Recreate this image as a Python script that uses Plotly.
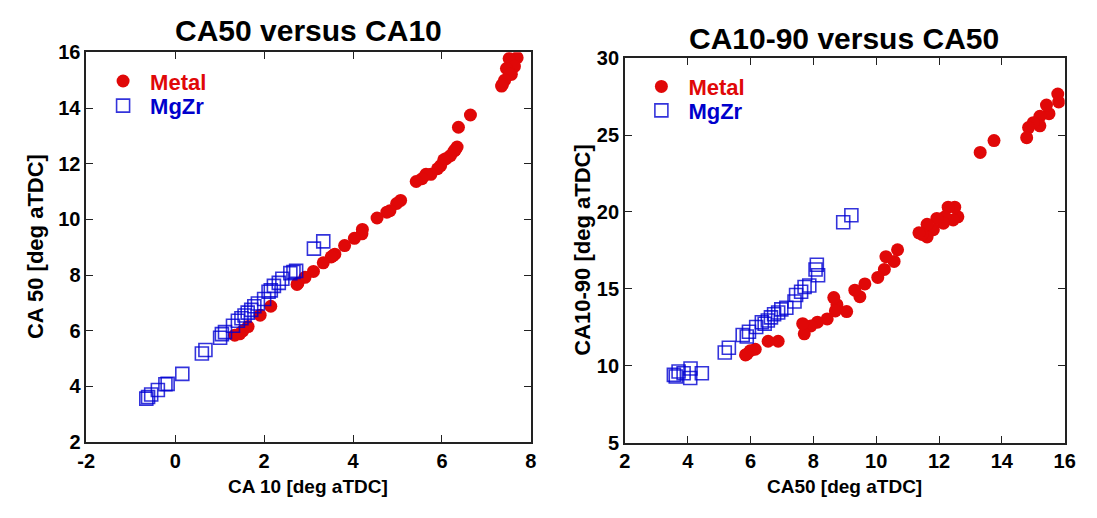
import plotly.graph_objects as go

# Combustion phasing data: CA10, CA50 and CA10-90 burn duration [deg aTDC]
metal_ca10 = [7.69, 7.51, 7.63, 7.45, 7.56, 7.52, 7.41, 7.36, 7.34, 6.64, 6.37,
              6.34, 6.30, 6.27, 6.19, 6.10, 6.04, 5.97, 5.90, 5.75, 5.64, 5.55,
              5.42, 5.07, 4.98, 4.83, 4.76, 4.54, 4.21, 4.20, 4.03, 3.81, 3.59,
              3.55, 3.51, 3.33, 3.11, 2.92, 2.76, 2.74, 2.15, 1.91, 1.64, 1.52,
              1.45, 1.34]
metal_ca50 = [15.81, 15.78, 15.50, 15.42, 15.21, 15.21, 15.00, 14.85, 14.79, 13.75, 13.31,
              12.60, 12.50, 12.45, 12.29, 12.19, 12.14, 11.93, 11.82, 11.62, 11.62, 11.46,
              11.36, 10.68, 10.57, 10.31, 10.26, 10.05, 9.64, 9.48, 9.32, 9.06, 8.75,
              8.70, 8.65, 8.44, 8.13, 7.92, 7.71, 7.66, 6.88, 6.56, 6.15, 5.99,
              5.89, 5.84]
metal_ca1090 = [27.15, 27.67, 26.39, 26.95, 26.22, 25.60, 25.81, 25.49, 24.83, 24.64, 23.87,
                19.68, 20.31, 19.48, 20.31, 19.68, 19.27, 19.58, 18.85, 19.20, 18.37, 18.54,
                18.64, 17.54, 16.78, 17.09, 16.26, 15.74, 15.32, 14.49, 14.91, 13.52, 13.97,
                13.56, 14.43, 13.04, 12.83, 12.58, 12.07, 12.73, 11.59, 11.59, 11.07, 10.97,
                10.76, 10.70]

mgzr_ca10 = [3.33, 3.12, 2.72, 2.66, 2.59, 2.41, 2.33, 2.22, 2.15, 2.10, 2.00,
             1.86, 1.78, 1.71, 1.63, 1.56, 1.49, 1.41, 1.30, 1.12, 1.05, 1.01,
             0.68, 0.60, 0.16, -0.17, -0.22, -0.39, -0.54, -0.61, -0.65]
mgzr_ca50 = [9.21, 8.95, 8.15, 8.11, 8.07, 7.87, 7.72, 7.61, 7.45, 7.40, 7.14,
             6.98, 6.88, 6.75, 6.65, 6.55, 6.45, 6.36, 6.18, 5.95, 5.88, 5.75,
             5.31, 5.18, 4.45, 4.09, 4.08, 3.87, 3.71, 3.62, 3.56]
mgzr_ca1090 = [19.79, 19.33, 15.88, 16.57, 16.26, 15.22, 15.12, 14.81, 14.60, 14.18, 13.77,
               13.66, 13.46, 13.35, 13.14, 12.94, 12.73, 12.83, 12.52, 12.21, 11.90, 12.00,
               11.17, 10.86, 9.51, 9.82, 9.20, 9.51, 9.62, 9.30, 9.40]

left_x_ticks = [-2, 0, 2, 4, 6, 8]
left_y_ticks = [2, 4, 6, 8, 10, 12, 14, 16]
right_x_ticks = [2, 4, 6, 8, 10, 12, 14, 16]
right_y_ticks = [5, 10, 15, 20, 25, 30]

W, H = 1097, 518
RED = "#E00808"
BLUE = "#0000CC"
FONT = "Liberation Sans, Arial, sans-serif"

# pixel boxes of the two panels: (left, top, right, bottom)
box_l = (78.7, 43.2, 531.6, 450.2)
box_r = (627.3, 49.3, 1075.3, 450.7)


def xdom(b):
    return [b[0] / W, b[2] / W]


def ydom(b):
    return [1 - b[3] / H, 1 - b[1] / H]


metal_marker = dict(symbol="circle", size=13, color=RED, line=dict(width=0))
mgzr_marker = dict(symbol="square-open", size=13, color="rgba(0,0,210,0.8)",
                   line=dict(width=1.6, color="rgba(0,0,210,0.8)"))

fig = go.Figure()
fig.add_trace(go.Scatter(x=metal_ca10, y=metal_ca50, mode="markers", marker=metal_marker,
                         name=f"<span style='color:{RED}'>Metal</span>",
                         xaxis="x", yaxis="y", legend="legend"))
fig.add_trace(go.Scatter(x=mgzr_ca10, y=mgzr_ca50, mode="markers", marker=mgzr_marker,
                         name=f"<span style='color:{BLUE}'>MgZr</span>",
                         xaxis="x", yaxis="y", legend="legend3"))
fig.add_trace(go.Scatter(x=metal_ca50, y=metal_ca1090, mode="markers", marker=metal_marker,
                         name=f"<span style='color:{RED}'>Metal</span>",
                         xaxis="x2", yaxis="y2", legend="legend2"))
fig.add_trace(go.Scatter(x=mgzr_ca50, y=mgzr_ca1090, mode="markers", marker=mgzr_marker,
                         name=f"<span style='color:{BLUE}'>MgZr</span>",
                         xaxis="x2", yaxis="y2", legend="legend4"))

axis_common = dict(showline=True, linecolor="#222222", linewidth=1.5, mirror="ticks",
                   ticks="inside", ticklen=7, tickwidth=1, tickcolor="#222222",
                   showgrid=False, zeroline=False, fixedrange=True,
                   tickfont=dict(family=FONT, size=20, color="black", weight="bold"))


def tick_axis(vals):
    return dict(tickvals=vals, ticktext=[str(v) for v in vals])


# one legend per entry; symbol centre sits (itemwidth + 10) / 2 right of the legend's left edge
ITEMW = 44


def legend_at(sym_x, sym_y):
    return dict(x=(sym_x - (ITEMW + 10) / 2) / W, y=1 - sym_y / H,
                xanchor="left", yanchor="middle", bgcolor="rgba(0,0,0,0)", borderwidth=0,
                font=dict(family=FONT, size=22, weight="bold"), itemwidth=ITEMW)


fig.update_layout(
    width=W, height=H, margin=dict(l=0, r=0, t=0, b=0),
    paper_bgcolor="white", plot_bgcolor="white",
    showlegend=True,
    xaxis=dict(domain=xdom(box_l), range=[-2, 8], anchor="y", **tick_axis(left_x_ticks), **axis_common),
    yaxis=dict(domain=ydom(box_l), range=[2, 16], anchor="x", **tick_axis(left_y_ticks), **axis_common),
    xaxis2=dict(domain=xdom(box_r), range=[2, 16], anchor="y2", **tick_axis(right_x_ticks), **axis_common),
    yaxis2=dict(domain=ydom(box_r), range=[5, 30], anchor="x2", **tick_axis(right_y_ticks), **axis_common),
    legend=legend_at(115.7, 73.3),
    legend3=legend_at(115.7, 99.0),
    legend2=legend_at(664.0, 79.0),
    legend4=legend_at(664.0, 104.0),
)

title_font = dict(family=FONT, size=30, color="black", weight="bold")
label_font = dict(family=FONT, size=19, color="black", weight="bold")
vlabel_font = dict(family=FONT, size=22, color="black", weight="bold")


def note(text, x, y, font, angle=0):
    fig.add_annotation(text=text, x=x / W, y=1 - y / H, xref="paper", yref="paper",
                       showarrow=False, xanchor="center", yanchor="middle",
                       textangle=angle, font=font)


note("CA50 versus CA10", 305, 20, title_font)
note("CA10-90 versus CA50", 851, 29, title_font)
note("CA 10 [deg aTDC]", 305, 497, label_font)
note("CA50 [deg aTDC]", 851, 497, label_font)
note("CA 50 [deg aTDC]", 27, 246, vlabel_font, -90)
note("CA10-90 [deg aTDC]", 584, 250, vlabel_font, -90)

fig.write_html("out.html")
